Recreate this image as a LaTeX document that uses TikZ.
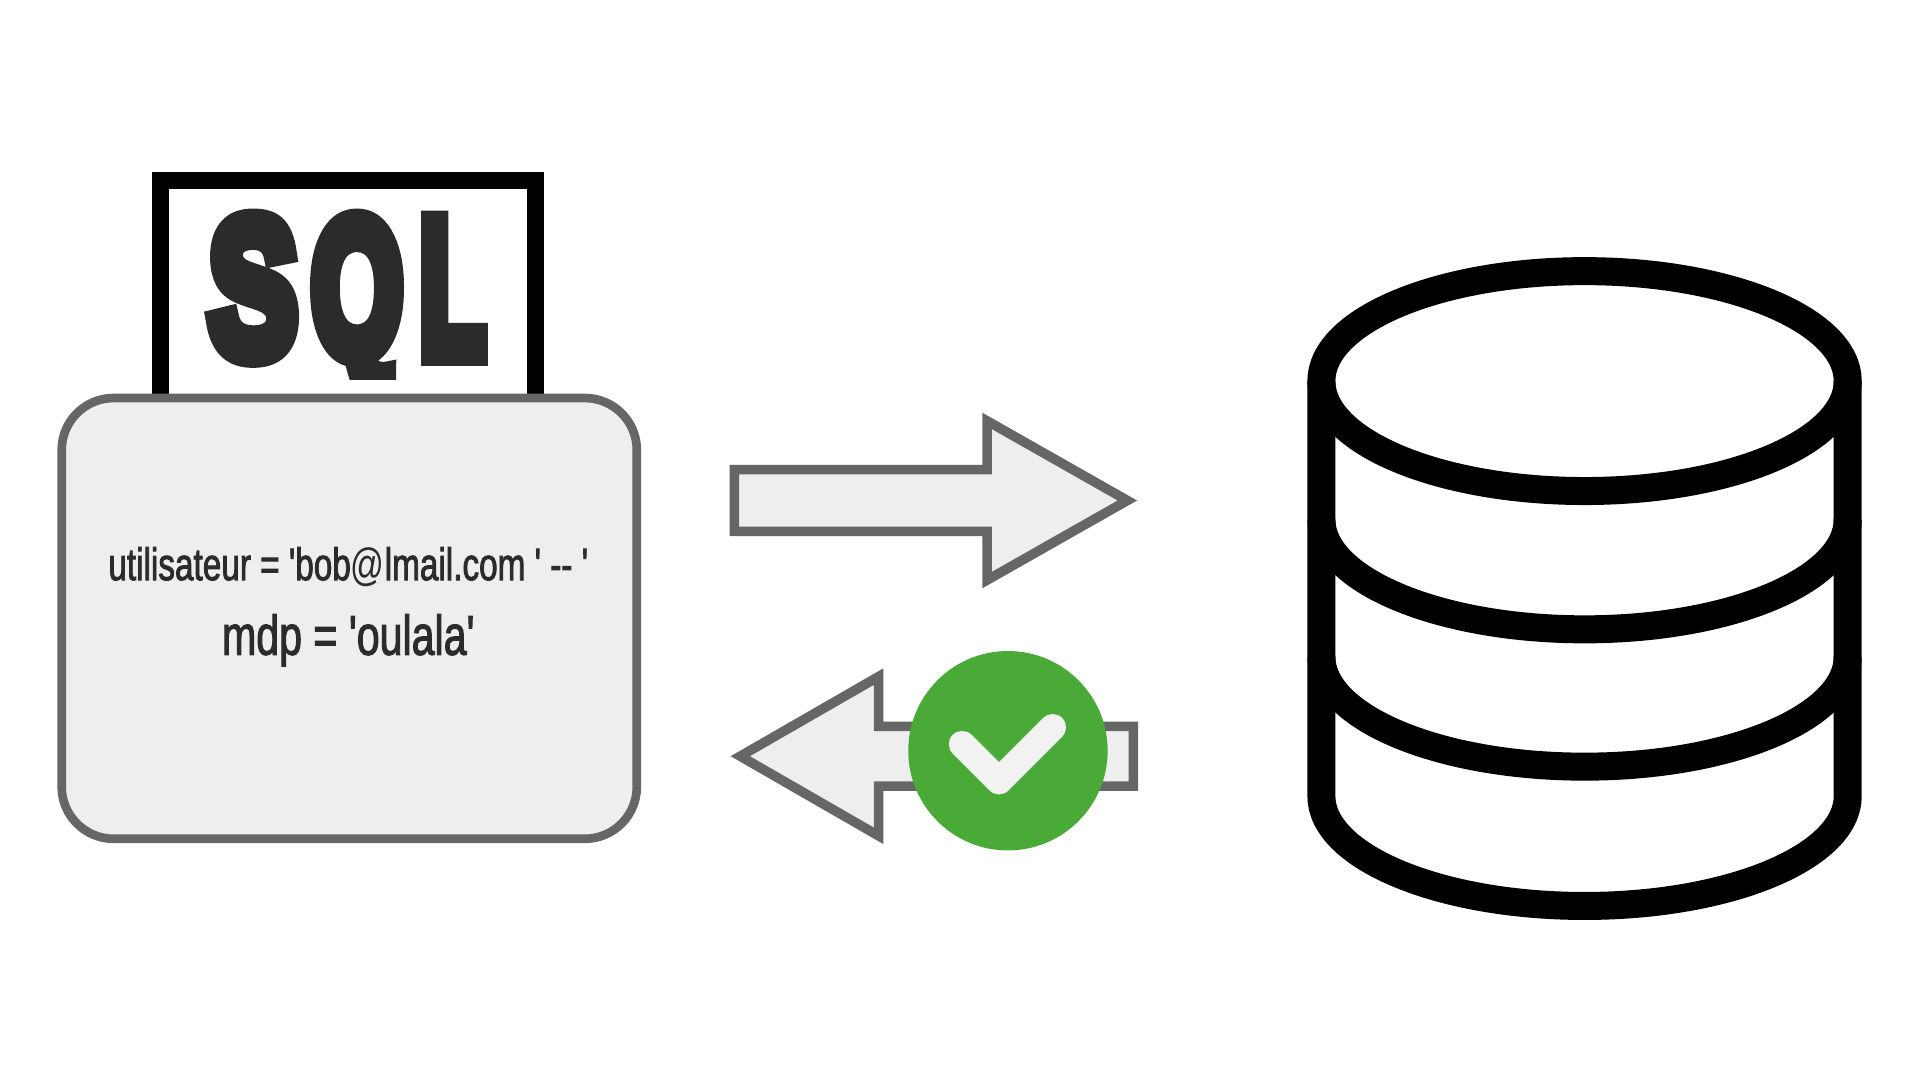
\documentclass[tikz,border=0pt]{standalone}
\usepackage{fontspec}
\setmainfont{Liberation Sans}
\newfontfamily\impactish[FakeBold=11]{Liberation Sans Bold}
\newfontfamily\dinish[FakeBold=2.2]{Liberation Sans}
\newfontfamily\thinat{Liberation Sans}
\definecolor{edgegrey}{HTML}{666666}
\definecolor{fillgrey}{HTML}{EEEEEE}
\definecolor{inkgrey}{HTML}{2B2B2B}
\definecolor{okgreen}{HTML}{4AAA37}
\definecolor{tickwhite}{HTML}{F2F2F2}
\tikzset{
  x=0.74625pt,y=-0.74625pt,
  bigarrow/.style={draw=edgegrey,fill=fillgrey,line width=7.2pt,miter limit=10},
  dbline/.style={draw=black,line width=21pt},
  bodytext/.style={inner sep=0pt,anchor=base,text=inkgrey,xscale=0.735},
}
\begin{document}
\begin{tikzpicture}
\useasboundingbox (0,0) rectangle (1929.65,1085.43);
\fill[white] (0,0) rectangle (1929.65,1085.43);
% SQL sheet
\draw[black,line width=12.75pt,miter limit=10] (161,396) -- (161,181) -- (538,181) -- (538,396);
\begin{scope}
\clip (180,190) rectangle (520,381);
\node[inner sep=0pt,anchor=base,text=inkgrey] (sql) at (349,357) {\fontsize{146pt}{146pt}\impactish \scalebox{0.675}[1]{S}\kern 11pt\scalebox{0.6}[1]{Q}\kern 13pt\scalebox{0.55}[1]{L}};
\end{scope}
% form
\draw[draw=edgegrey,fill=fillgrey,line width=6.5pt,rounded corners=52*0.75pt] (62,400) rectangle (640,843);
\node[bodytext] (user) at (350,583) {\fontsize{34pt}{34pt}\dinish utilisateur = 'bob{\thinat @}lmail.com ' -- '};
\node[bodytext] (pass) at (350,658) {\fontsize{42pt}{42pt}\dinish mdp = 'oulala'};
% arrows
\draw[bigarrow] (738,472) -- (992,472) -- (992,423) -- (1133,503) -- (992,583) -- (992,534) -- (738,534) -- cycle;
\draw[bigarrow] (1139,730) -- (883,730) -- (883,680) -- (744,760) -- (883,840) -- (883,790) -- (1139,790) -- cycle;
% badge
\node[circle,fill=okgreen,minimum size=199.4*0.75pt,inner sep=0pt] (badge) at (1013,754.5) {};
\draw[tickwhite,line width=20pt,line cap=round,line join=round] (967,748) -- (1004,785) -- (1058,731);
% database
\draw[dbline] (1328,522) arc[start angle=180,end angle=360,x radius=264.5,y radius=-110.5];
\draw[dbline] (1328,660) arc[start angle=180,end angle=360,x radius=264.5,y radius=-110.5];
\draw[dbline] (1592.5,383) ellipse [x radius=264.5,y radius=110.5];
\draw[dbline] (1328,383) -- (1328,800) arc[start angle=180,end angle=360,x radius=264.5,y radius=-110.5] -- (1857,383);
\end{tikzpicture}
\end{document}
